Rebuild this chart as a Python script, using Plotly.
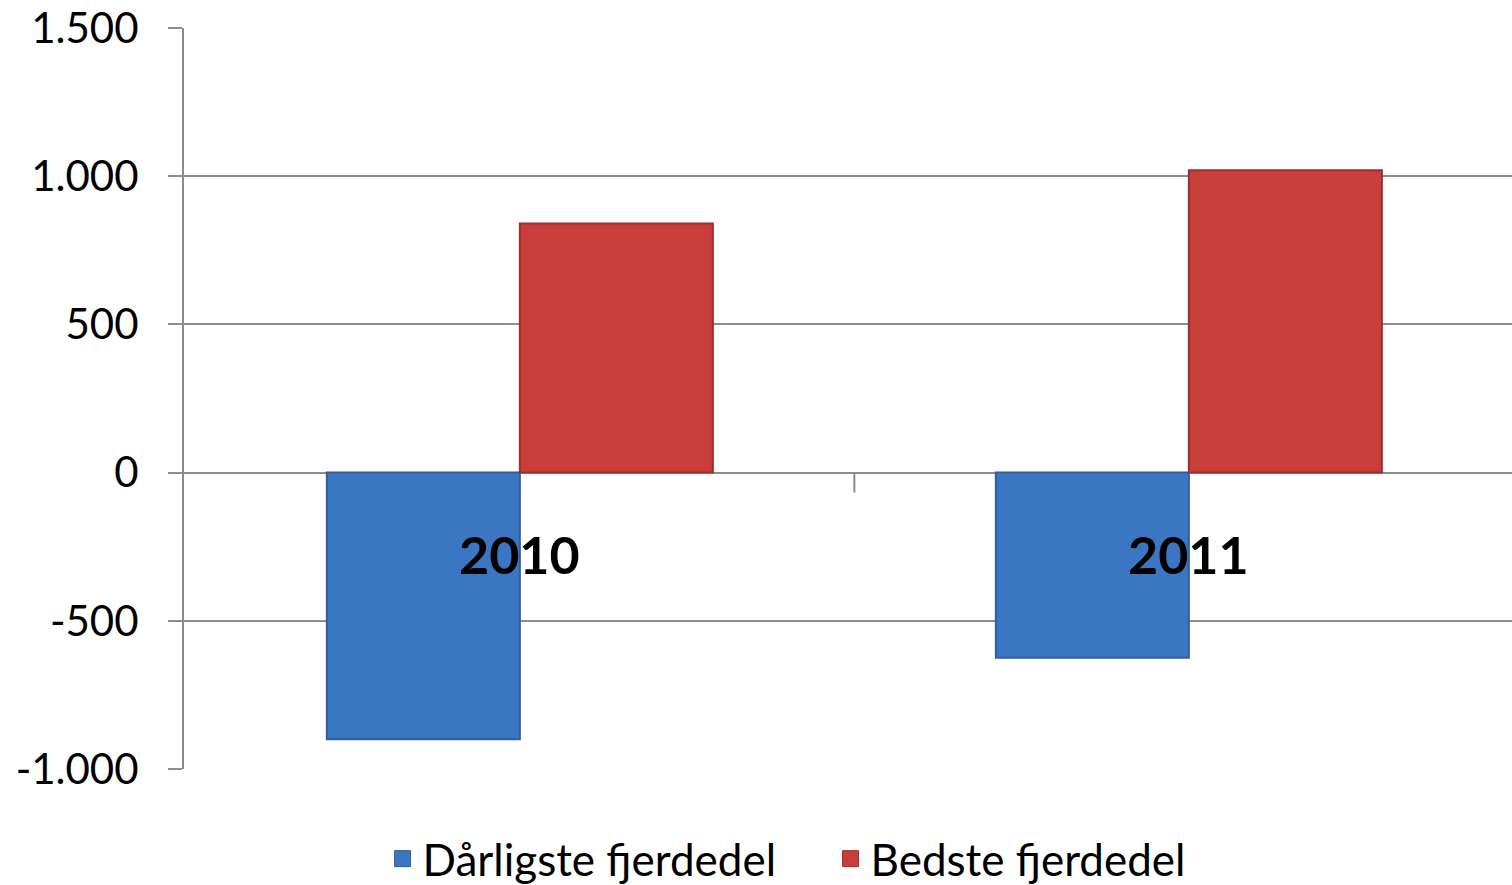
import plotly.graph_objects as go

categories = ["2010", "2011"]
worst_quarter = [-900, -625]
best_quarter = [840, 1020]
series_names = ["Dårligste fjerdedel", "Bedste fjerdedel"]
y_ticks = [-1000, -500, 0, 500, 1000, 1500]
y_tick_labels = ["-1.000", "-500", "0", "500", "1.000", "1.500"]

FONT = "Lato"
GRID = "#8c8c8c"
BLUE, BLUE_EDGE = "#3b76c2", "#2f5f9c"
RED, RED_EDGE = "#c93e3b", "#9e2f2d"

fig = go.Figure()
fig.add_trace(go.Bar(
    x=categories, y=worst_quarter, name=series_names[0], showlegend=False,
    legendgroup="w",
    marker=dict(color=BLUE, line=dict(color=BLUE_EDGE, width=2)),
))
fig.add_trace(go.Bar(
    x=categories, y=best_quarter, name=series_names[1], showlegend=False,
    legendgroup="b",
    marker=dict(color=RED, line=dict(color=RED_EDGE, width=2)),
))
# legend entries with larger square swatches
fig.add_trace(go.Scatter(
    x=[None], y=[None], mode="markers", name=series_names[0], legendgroup="w",
    marker=dict(symbol="square", size=24, color=BLUE, line=dict(color=BLUE_EDGE, width=1)),
))
fig.add_trace(go.Scatter(
    x=[None], y=[None], mode="markers", name=series_names[1], legendgroup="b",
    marker=dict(symbol="square", size=24, color=RED, line=dict(color=RED_EDGE, width=1)),
))

for i, c in enumerate(categories):
    fig.add_annotation(
        x=i, y=0, xref="x", yref="y", text=f"<b>{c}</b>", showarrow=False,
        yanchor="middle", yshift=-81,
        font=dict(family=FONT, size=52, color="black"),
    )

# category boundary tick on the zero line
fig.add_shape(type="line", xref="x", yref="y", x0=0.5, x1=0.5,
              ysizemode="pixel", yanchor=0, y0=0, y1=-20,
              line=dict(color=GRID, width=2))

fig.update_layout(
    width=1512, height=885,
    margin=dict(l=184, r=0, t=28, b=116, autoexpand=False),
    paper_bgcolor="white", plot_bgcolor="white",
    barmode="group", bargap=0.423, bargroupgap=0,
    font=dict(family=FONT, color="black"),
    showlegend=True,
    legend=dict(orientation="h", x=0.1495, xanchor="left", y=-0.1215, yanchor="middle",
                font=dict(family=FONT, size=44, color="black"),
                itemsizing="trace", itemwidth=30, tracegroupgap=0,
                entrywidth=403, entrywidthmode="pixels"),
)
fig.update_xaxes(type="category", range=[-0.502, 1.483], showticklabels=False,
                 showgrid=False, zeroline=False, showline=False, ticks="")
fig.update_yaxes(
    range=[-1000, 1500], tickvals=y_ticks, ticktext=y_tick_labels, automargin=False,
    showgrid=True, gridcolor=GRID, gridwidth=2,
    zeroline=True, zerolinecolor=GRID, zerolinewidth=2,
    showline=True, linecolor=GRID, linewidth=2,
    ticks="outside", ticklen=14, tickcolor=GRID, tickwidth=2,
    tickfont=dict(family=FONT, size=42, color="black"), ticklabelstandoff=21,
)
fig.write_html(
    "out.html",
    config={"displayModeBar": False},
    post_script="document.body.style.margin='0';document.body.style.overflow='hidden';",
)
